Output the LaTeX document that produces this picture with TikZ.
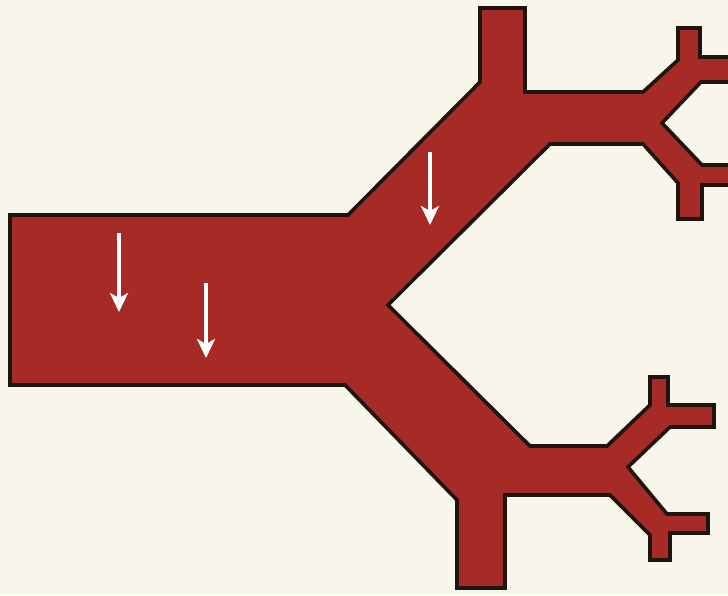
\documentclass[tikz,border=0pt]{standalone}
\usetikzlibrary{arrows.meta}
\definecolor{paper}{HTML}{F8F5EA}
\definecolor{vessel}{HTML}{A62A25}
\definecolor{rim}{HTML}{1E1410}
\tikzset{
  vesselwall/.style={fill=vessel, draw=rim, line width=3.6pt, line join=miter},
  flowarrow/.style={draw=white, line width=3.4pt,
    -{Stealth[length=19pt, width=18pt, inset=5pt]}}
}
\begin{document}
\begin{tikzpicture}[x=1pt, y=-1pt]
  % page
  \fill[paper] (0,0) rectangle (728,595);
  \useasboundingbox (0,0) rectangle (728,595);

  % branching vessel
  \draw[vesselwall]
    (10,215) -- (348,215)
    -- (480,82) -- (480,8) -- (525,8) -- (525,92)
    -- (643,92) -- (678,60) -- (678,28) -- (700,28) -- (700,57) -- (740,57)
    -- (740,82) -- (701,82) -- (662,123) -- (702,165) -- (740,165)
    -- (740,185) -- (702,185) -- (702,219) -- (678,219) -- (678,183)
    -- (643,144) -- (550,144)
    -- (388,305)
    -- (530,446) -- (607,446) -- (650,405) -- (650,377) -- (668,377)
    -- (668,405) -- (714,405) -- (714,427) -- (670,427)
    -- (628,467) -- (667,514) -- (708,514) -- (708,533) -- (670,533)
    -- (670,560) -- (650,560) -- (650,535) -- (610,495) -- (505,495)
    -- (505,588) -- (457,588) -- (457,500)
    -- (345,385) -- (10,385) -- cycle;

  % flow arrows
  \coordinate (a1s) at (119,233);
  \coordinate (a1e) at (119,312);
  \coordinate (a2s) at (206,283);
  \coordinate (a2e) at (206,358);
  \coordinate (a3s) at (430,152);
  \coordinate (a3e) at (430,225);
  \draw[flowarrow] (a1s) -- (a1e);
  \draw[flowarrow] (a2s) -- (a2e);
  \draw[flowarrow] (a3s) -- (a3e);
\end{tikzpicture}
\end{document}
